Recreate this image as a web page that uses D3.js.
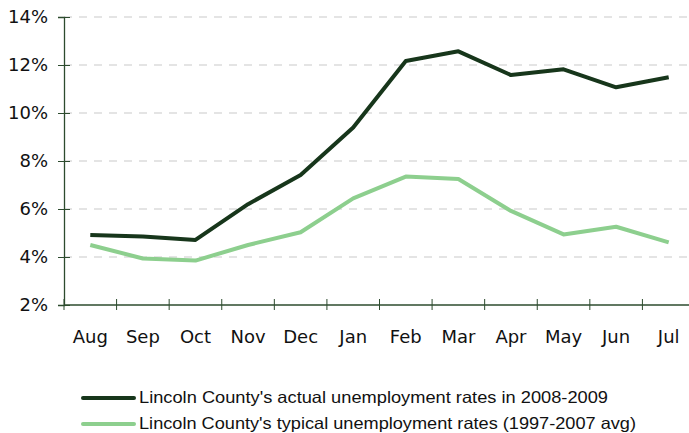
<!DOCTYPE html>
<html>
<head>
<meta charset="utf-8">
<script src="https://cdn.jsdelivr.net/npm/d3@7"></script>
<style>
  body { margin: 0; background: #fff; }
  .axis text { font-family: "DejaVu Sans", sans-serif; font-size: 18px; fill: #111; }
  .legend text { font-family: "Liberation Sans", Arial, sans-serif; font-size: 16.5px; fill: #111; }
</style>
</head>
<body>
<script>
const width = 689;
const height = 433;

// months on the x axis
var months = ["Aug", "Sep", "Oct", "Nov", "Dec", "Jan", "Feb", "Mar", "Apr", "May", "Jun", "Jul"];

// unemployment rates, percent
var actual = [4.92, 4.85, 4.71, 6.2, 7.42, 9.4, 12.17, 12.57, 11.58, 11.82, 11.07, 11.49];
var typical = [4.5, 3.94, 3.85, 4.5, 5.03, 6.44, 7.35, 7.25, 5.92, 4.94, 5.26, 4.61];

var yTicks = [2, 4, 6, 8, 10, 12, 14];

var legendLabels = [
  "Lincoln County's actual unemployment rates in 2008-2009",
  "Lincoln County's typical unemployment rates (1997-2007 avg)"
];
var legendWidths = [469, 497];

var colors = ["#17361b", "#8dcf8e"];

var svg = d3.select("body")
  .append("svg")
  .attr("width", width)
  .attr("height", height);

// scales
var xscale = d3.scaleBand()
  .domain(months)
  .range([64, 695]);

var yscale = d3.scaleLinear()
  .domain([2, 14])
  .range([305, 17]);

// dashed gridlines
svg.append("g")
  .selectAll("line")
  .data(yTicks.slice(1))
  .enter()
  .append("line")
  .attr("x1", 64)
  .attr("x2", 689)
  .attr("y1", d => yscale(d))
  .attr("y2", d => yscale(d))
  .attr("stroke", "#c9c9c9")
  .attr("stroke-width", 1)
  .attr("stroke-dasharray", "8,7");

// y axis
var y_axis = d3.axisLeft(yscale)
  .tickValues(yTicks)
  .tickFormat(d => d + "%")
  .tickSize(6);

var yg = svg.append("g")
  .attr("class", "axis")
  .attr("transform", "translate(64, 0)")
  .call(y_axis);
yg.select(".domain").attr("stroke", "#2d4b2e").attr("stroke-width", 1.3);
yg.selectAll(".tick line").attr("stroke", "#2d4b2e").attr("x2", 6).attr("x1", -6);
yg.selectAll(".tick text").attr("x", -16);

// x axis, ticks on band edges
var xg = svg.append("g")
  .attr("class", "axis")
  .attr("transform", "translate(0, 305)");

xg.append("line")
  .attr("x1", 64)
  .attr("x2", 689)
  .attr("stroke", "#2d4b2e")
  .attr("stroke-width", 1.3);

xg.selectAll(".xtick")
  .data(months)
  .enter()
  .append("line")
  .attr("class", "xtick")
  .attr("x1", d => xscale(d))
  .attr("x2", d => xscale(d))
  .attr("y1", -6)
  .attr("y2", 5)
  .attr("stroke", "#2d4b2e");

xg.selectAll("text")
  .data(months)
  .enter()
  .append("text")
  .attr("x", d => xscale(d) + xscale.bandwidth() / 2)
  .attr("y", 38)
  .attr("text-anchor", "middle")
  .text(d => d);

// lines
var line = d3.line()
  .x((d, i) => xscale(months[i]) + xscale.bandwidth() / 2)
  .y(d => yscale(d));

[actual, typical].forEach(function (series, k) {
  svg.append("path")
    .datum(series)
    .attr("fill", "none")
    .attr("stroke", colors[k])
    .attr("stroke-width", 4)
    .attr("stroke-linejoin", "round")
    .attr("d", line);
});

// legend
var legend = svg.append("g").attr("class", "legend");
legendLabels.forEach(function (label, k) {
  var y = 398 + k * 26;
  legend.append("line")
    .attr("x1", 83)
    .attr("x2", 134)
    .attr("y1", y)
    .attr("y2", y)
    .attr("stroke", colors[k])
    .attr("stroke-width", 4)
    .attr("stroke-linecap", "round");
  legend.append("text")
    .attr("x", 139)
    .attr("y", y + 5)
    .attr("textLength", legendWidths[k])
    .attr("lengthAdjust", "spacingAndGlyphs")
    .text(label);
});
</script>
</body>
</html>
